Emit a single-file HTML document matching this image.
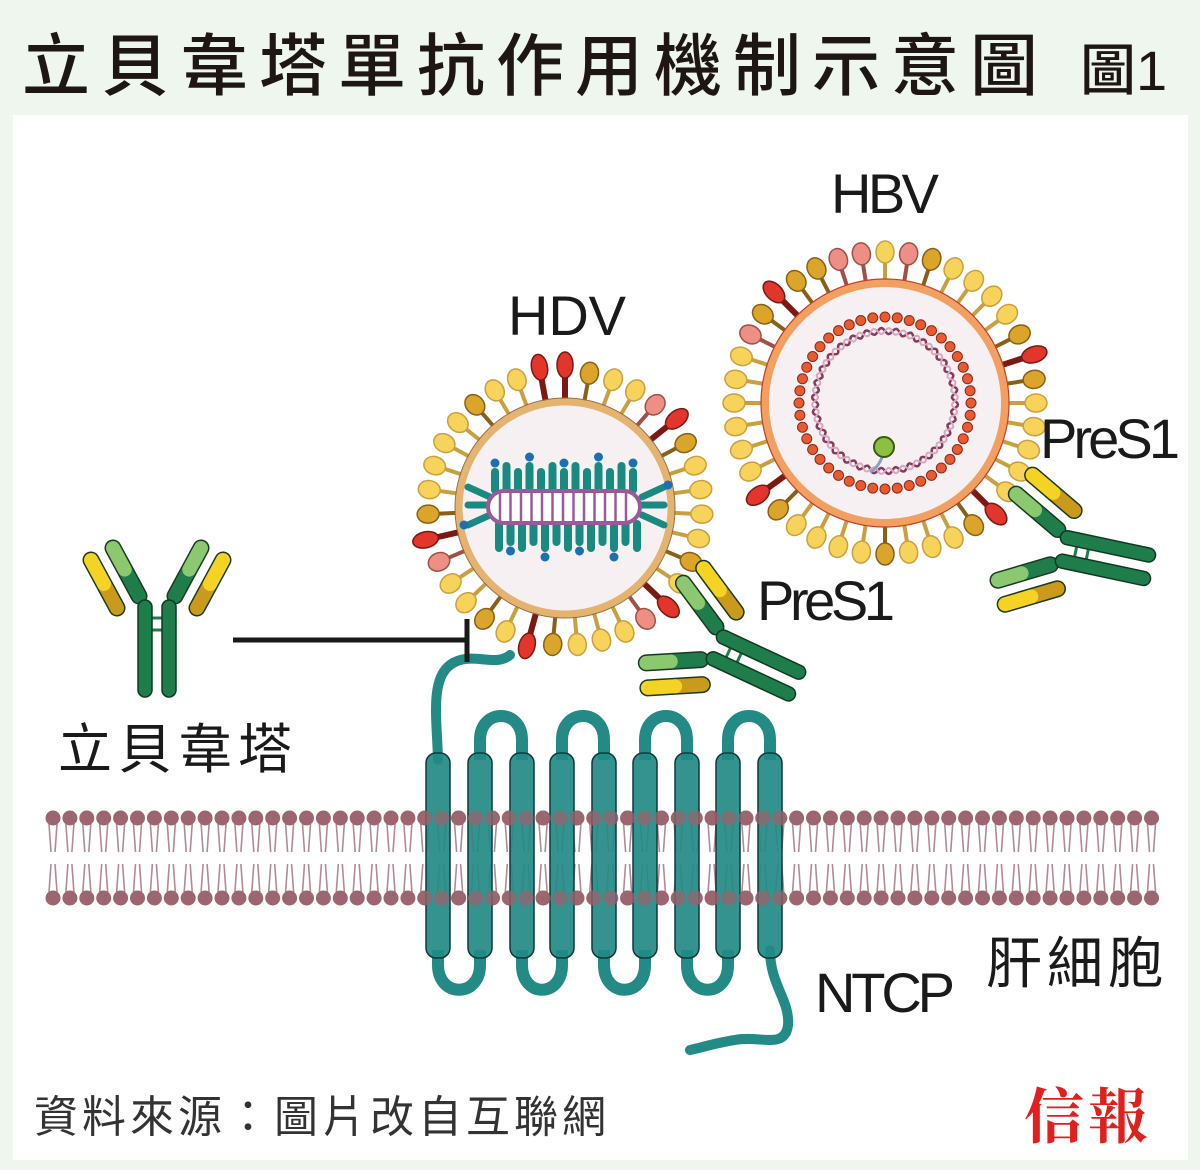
<!DOCTYPE html>
<html><head><meta charset="utf-8"><style>
html,body{margin:0;padding:0;width:1200px;height:1170px;overflow:hidden;background:#eef6ee}
svg{display:block}
.t{font-family:"Liberation Sans","Noto Sans CJK TC",sans-serif}
</style></head><body>
<svg id="s" width="1200" height="1170" viewBox="0 0 1200 1170" xmlns="http://www.w3.org/2000/svg">
<rect x="0" y="0" width="1200" height="1170" fill="#eef6ee"/>
<rect x="13" y="115" width="1175" height="1045" fill="#ffffff"/>
<text class="t" x="22" y="90" font-size="68" font-weight="500" letter-spacing="11" fill="#1e1612" font-family="Noto Sans CJK TC, sans-serif">立貝韋塔單抗作用機制示意圖</text>
<text class="t" x="1080" y="90" font-size="56" font-weight="500" fill="#1e1612" font-family="Noto Sans CJK TC, sans-serif">圖1</text>
<g id="mem"></g>
<g id="ntcp"></g>
<g id="hdv"></g>
<g id="hbv"></g>
<g id="ab"></g>
<line x1="233" y1="640" x2="467" y2="640" stroke="#1a1a1a" stroke-width="5"/>
<line x1="467" y1="619" x2="467" y2="662" stroke="#1a1a1a" stroke-width="5"/>
<text class="t" x="567" y="335" font-size="56" text-anchor="middle" fill="#1a1a1a" textLength="118">HDV</text>
<text class="t" x="885" y="213" font-size="56" text-anchor="middle" fill="#1a1a1a" textLength="108">HBV</text>
<text class="t" x="757" y="620" font-size="56" fill="#1a1a1a" textLength="138">PreS1</text>
<text class="t" x="1040" y="458" font-size="56" fill="#1a1a1a" textLength="140">PreS1</text>
<text class="t" x="815" y="1012" font-size="56" fill="#1a1a1a" textLength="140">NTCP</text>
<text class="t" x="58" y="768" font-size="54" fill="#1a1a1a" letter-spacing="6">立貝韋塔</text>
<text class="t" x="986" y="983" font-size="56" fill="#1a1a1a" letter-spacing="5">肝細胞</text>
<text class="t" x="34" y="1132" font-size="44" fill="#333" letter-spacing="4">資料來源：圖片改自互聯網</text>
<text x="1024" y="1138" font-size="60" font-weight="bold" fill="#e0201c" font-family="Noto Serif CJK SC, serif" letter-spacing="4">信報</text>
</svg>
<script>
const NS="http://www.w3.org/2000/svg";
function el(p,tag,a){const e=document.createElementNS(NS,tag);for(const k in a)e.setAttribute(k,a[k]);p.appendChild(e);return e;}
const mem=document.getElementById('mem');
for(let x=53;x<=1168;x+=16.9){
  const lc="#b08a95";
  el(mem,'path',{d:`M${x-4} 824 L${x-2} 852 M${x+4} 824 L${x+2} 852 M${x-2} 864 L${x-4} 892 M${x+2} 864 L${x+4} 892`,stroke:lc,'stroke-width':1.6,fill:'none'});
  el(mem,'circle',{cx:x,cy:818,r:7.5,fill:'#9c6570'});
  el(mem,'circle',{cx:x,cy:898,r:7.5,fill:'#9c6570'});
}
const nt=document.getElementById('ntcp');
let teal="#238a86";
let d="M510 655 C495 668 470 650 450 665 C430 680 437 720 438 760";
el(nt,'path',{d,stroke:teal,'stroke-width':10,fill:'none','stroke-linecap':'round'});
[[480,522],[562,604],[645,687],[728,770]].forEach(([a,b])=>{
  el(nt,'path',{d:`M${a} 760 L${a} 740 C${a} 708 ${b} 708 ${b} 740 L${b} 760`,stroke:teal,'stroke-width':12,fill:'none'});
});
[[438,480],[522,562],[604,645],[687,728]].forEach(([a,b])=>{
  el(nt,'path',{d:`M${a} 950 L${a} 965 C${a} 998 ${b} 998 ${b} 965 L${b} 950`,stroke:teal,'stroke-width':12,fill:'none'});
});
el(nt,'path',{d:"M770 950 C770 985 790 1000 788 1025 C785 1050 760 1035 735 1040 C715 1043 700 1048 690 1050",stroke:teal,'stroke-width':10,fill:'none','stroke-linecap':'round'});
const rx=[438,480,522,562,604,645,687,728,770];
rx.forEach(x=>{el(nt,'rect',{x:x-12,y:753,width:24,height:205,rx:10,fill:teal,'fill-opacity':0.92,stroke:'#0f3a3a','stroke-width':1.5});});
for(let x=53;x<=1168;x+=16.9){
  if(x>420&&x<790){el(nt,'circle',{cx:x,cy:818,r:7.5,fill:'#9c6570','fill-opacity':0.75});el(nt,'circle',{cx:x,cy:898,r:7.5,fill:'#9c6570','fill-opacity':0.75});}
}
const COL={y:['#f7d35c','#c9a040'],d:['#dba42a','#8a6018'],r:['#e2352b','#7a1a12'],p:['#ee8f86','#a05048']};
function spikes(g,cx,cy,r,pattern){
  const n=pattern.length;
  for(let i=0;i<n;i++){
    const t=pattern[i];const a=(i/n)*Math.PI*2-Math.PI/2;
    const c=COL[t];const len=t==='r'?26:22;
    const ux=Math.cos(a),uy=Math.sin(a);
    el(g,'line',{x1:cx+ux*r,y1:cy+uy*r,x2:cx+ux*(r+len),y2:cy+uy*(r+len),stroke:c[1],'stroke-width':t==='r'?6:4});
    const deg=a*180/Math.PI+90;
    const er=t==='r'?[8,13]:[9,11];
    el(g,'ellipse',{cx:cx+ux*(r+len+er[1]-2),cy:cy+uy*(r+len+er[1]-2),rx:er[0],ry:er[1],fill:c[0],stroke:c[1],'stroke-width':1.5,transform:`rotate(${deg} ${cx+ux*(r+len+er[1]-2)} ${cy+uy*(r+len+er[1]-2)})`});
  }
}
const hdv=document.getElementById('hdv');
const hc=[565,508],hr=106;
spikes(hdv,hc[0],hc[1],hr,"rdyyprdyyyydyrpyyydrydyyprdyyyydyyr".split(''));
el(hdv,'circle',{cx:hc[0],cy:hc[1],r:hr,fill:'#f7f0f3',stroke:'#e3b36f','stroke-width':7});
el(hdv,'circle',{cx:hc[0],cy:hc[1],r:hr+4,fill:'none',stroke:'#9a6a40','stroke-width':1});
for(let i=0;i<13;i++){
  const x=495+i*11.5;
  const h1=18+(i%2)*6;
  el(hdv,'line',{x1:x,y1:490,x2:x,y2:490-h1,stroke:'#1a8a80','stroke-width':8,'stroke-linecap':'round'});
  if(i%3===0) el(hdv,'circle',{cx:x,cy:490-h1-9,r:4.5,fill:'#1a70b0'});
  const h2=18+((i+1)%2)*6;
  el(hdv,'line',{x1:x+4,y1:524,x2:x+4,y2:524+h2,stroke:'#1a8a80','stroke-width':8,'stroke-linecap':'round'});
  if(i%3===1) el(hdv,'circle',{cx:x+4,cy:524+h2+9,r:4.5,fill:'#1a70b0'});
}
[[-1,0],[1,0]].forEach(([s])=>{
  const x0=s<0?490:642;
  [[-14,-10],[0,-2],[-14,8]].forEach(([dx,dy],k)=>{
    el(hdv,'line',{x1:x0,y1:507+dy,x2:x0+s*(22),y2:507+dy+(k-1)*10,stroke:'#1a8a80','stroke-width':7,'stroke-linecap':'round'});
  });
  el(hdv,'circle',{cx:x0+s*26,cy:s<0?525:485,r:4.5,fill:'#1a70b0'});
});
el(hdv,'rect',{x:488,y:491,width:152,height:32,rx:16,fill:'#fff',stroke:'#9a5a9a','stroke-width':4});
for(let x=500;x<=630;x+=10.5) el(hdv,'line',{x1:x,y1:493,x2:x,y2:521,stroke:'#9a5a9a','stroke-width':2.5});
const hbv=document.getElementById('hbv');
const bc=[885,403],br=120;
spikes(hbv,bc[0],bc[1],br,"rdpppddrdpyyyyyyrdyyyydyyydryyyyydrdyyyydpy".split('').reverse().join('').split('').slice(0,40));
el(hbv,'circle',{cx:bc[0],cy:bc[1],r:br,fill:'#f7f0f3',stroke:'#f2a062','stroke-width':8});
el(hbv,'circle',{cx:bc[0],cy:bc[1],r:br+4,fill:'none',stroke:'#c0402a','stroke-width':1.2});
let wp="";
for(let i=0;i<=360;i++){const a=i*Math.PI/180;const r=70+3*Math.sin(a*30);wp+=(i?"L":"M")+(bc[0]+r*Math.cos(a)).toFixed(1)+" "+(bc[1]-2+r*Math.sin(a)).toFixed(1);}
el(hbv,'path',{d:wp,fill:'none',stroke:'#8a3a5a','stroke-width':2.5});
let wp2="";
for(let i=0;i<=360;i++){const a=i*Math.PI/180;const r=70-3*Math.sin(a*30);wp2+=(i?"L":"M")+(bc[0]+r*Math.cos(a)).toFixed(1)+" "+(bc[1]-2+r*Math.sin(a)).toFixed(1);}
el(hbv,'path',{d:wp2,fill:'none',stroke:'#d8a8c0','stroke-width':2});
for(let i=0;i<44;i++){const a=i/44*Math.PI*2;el(hbv,'circle',{cx:bc[0]+86*Math.cos(a),cy:bc[1]+86*Math.sin(a),r:5,fill:'#e85a30',stroke:'#8a2a18','stroke-width':1});}
el(hbv,'path',{d:"M884 450 C882 462 875 470 870 472",stroke:'#8aa0c0','stroke-width':3,fill:'none'});
el(hbv,'circle',{cx:884,cy:447,r:10,fill:'#8cc040',stroke:'#3a5a10','stroke-width':2});
const ab=document.getElementById('ab');
function bar(g,x1,y1,x2,y2,w,c1,c2,split){
  const mx=x1+(x2-x1)*split,my=y1+(y2-y1)*split;
  el(g,'line',{x1,y1,x2,y2,stroke:'#1a3a20','stroke-width':w+3,'stroke-linecap':'round'});
  el(g,'line',{x1,y1,x2:mx,y2:my,stroke:c1,'stroke-width':w,'stroke-linecap':'round'});
  el(g,'line',{x1:mx,y1:my,x2,y2,stroke:c2,'stroke-width':w,'stroke-linecap':'round'});
}
function antibody(tx,ty,rot){
  const g=el(ab,'g',{transform:`translate(${tx} ${ty}) rotate(${rot})`});
  const G='#1f7d4c',LG='#8cc870',Y='#f5d324',M='#c99a1c';
  [-1,1].forEach(s=>{
    bar(g,s*40,8,s*66,-40,14,M,Y,0.5);
    bar(g,s*18,-4,s*44,-52,14,G,LG,0.55);
  });
  el(g,'line',{x1:-5,y1:18,x2:5,y2:18,stroke:G,'stroke-width':3});
  el(g,'line',{x1:-5,y1:30,x2:5,y2:30,stroke:G,'stroke-width':3});
  [-12,12].forEach(x=>{el(g,'rect',{x:x-7,y:0,width:14,height:97,rx:7,fill:G,stroke:'#103a20','stroke-width':1.5});});
}
antibody(157,600,0);
antibody(712,645,-65);
antibody(1058,548,-78);
</script>
</body></html>
